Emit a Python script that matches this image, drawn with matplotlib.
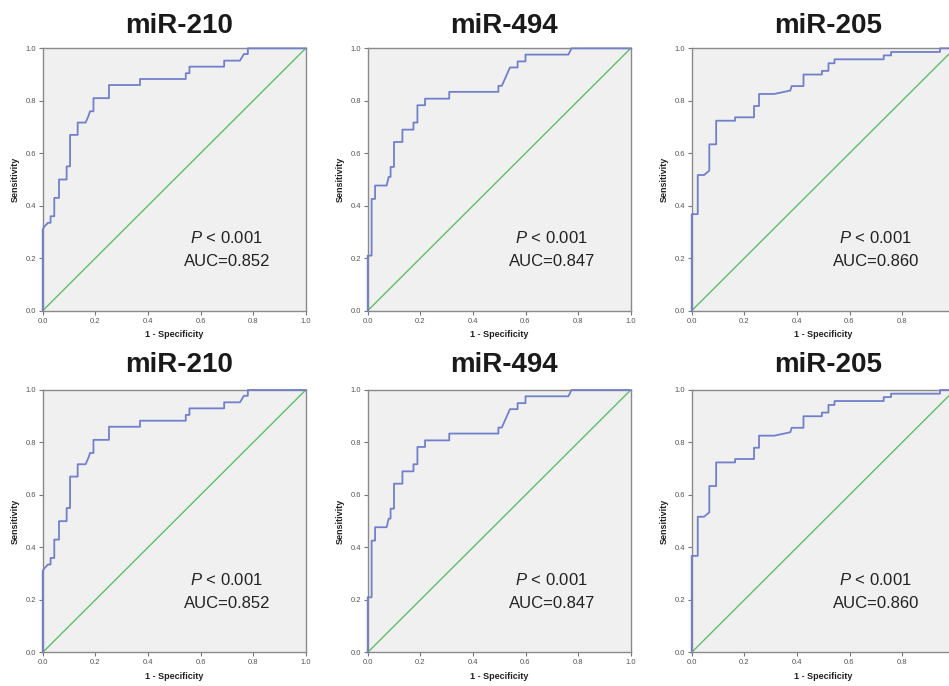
import matplotlib
matplotlib.use("Agg")
import matplotlib.pyplot as plt

plt.rcParams['font.family'] = ['Liberation Sans', 'DejaVu Sans']
plt.rcParams['mathtext.fontset'] = 'custom'
plt.rcParams['mathtext.rm'] = 'Liberation Sans'
plt.rcParams['mathtext.it'] = 'Liberation Sans:italic'

# ---- data (ROC curve vertices: 1 - specificity, sensitivity) ----
titles = ["miR-210", "miR-494", "miR-205"]
auc_values = ["0.852", "0.847", "0.860"]
p_label = "0.001"

fpr_210 = [0, 0, 0.006, 0.02, 0.03, 0.03, 0.044, 0.044, 0.062, 0.062, 0.091, 0.091, 0.104, 0.104,
           0.133, 0.133, 0.163, 0.174, 0.18, 0.193, 0.193, 0.252, 0.252, 0.37, 0.37, 0.544, 0.544,
           0.558, 0.558, 0.69, 0.69, 0.75, 0.765, 0.78, 0.78, 1.0]
tpr_210 = [0, 0.31, 0.32, 0.335, 0.335, 0.36, 0.36, 0.43, 0.43, 0.50, 0.50, 0.55, 0.55, 0.67,
           0.67, 0.717, 0.717, 0.742, 0.76, 0.76, 0.81, 0.81, 0.86, 0.86, 0.883, 0.883, 0.905,
           0.905, 0.93, 0.93, 0.953, 0.953, 0.978, 0.978, 1.0, 1.0]

fpr_494 = [0, 0, 0.015, 0.015, 0.028, 0.028, 0.072, 0.08, 0.087, 0.087, 0.1, 0.1, 0.132, 0.132,
           0.174, 0.174, 0.189, 0.189, 0.218, 0.218, 0.31, 0.31, 0.497, 0.497, 0.51, 0.541, 0.57,
           0.57, 0.60, 0.60, 0.763, 0.775, 1.0]
tpr_494 = [0, 0.21, 0.21, 0.426, 0.426, 0.477, 0.477, 0.51, 0.51, 0.548, 0.548, 0.643, 0.643, 0.69,
           0.69, 0.717, 0.717, 0.783, 0.783, 0.808, 0.808, 0.834, 0.834, 0.857, 0.857, 0.927, 0.927,
           0.95, 0.95, 0.976, 0.976, 1.0, 1.0]

fpr_205 = [0, 0, 0.023, 0.023, 0.047, 0.067, 0.067, 0.093, 0.093, 0.165, 0.165, 0.237, 0.237, 0.256,
           0.256, 0.314, 0.375, 0.38, 0.425, 0.425, 0.495, 0.495, 0.52, 0.52, 0.543, 0.543, 0.73,
           0.73, 0.758, 0.758, 0.944, 0.944, 1.0]
tpr_205 = [0, 0.368, 0.368, 0.517, 0.517, 0.534, 0.634, 0.634, 0.724, 0.724, 0.737, 0.737, 0.78, 0.78,
           0.826, 0.826, 0.839, 0.856, 0.856, 0.9, 0.9, 0.914, 0.914, 0.943, 0.943, 0.958, 0.958,
           0.973, 0.973, 0.986, 0.986, 1.0, 1.0]

curves = [(fpr_210, tpr_210), (fpr_494, tpr_494), (fpr_205, tpr_205)]
ticks = [0.0, 0.2, 0.4, 0.6, 0.8, 1.0]

W, H = 949, 686
fig = plt.figure(figsize=(W / 100, H / 100), dpi=100)

col_left = [42.7, 367.7, 691.7]
row_top = [48.3, 390.0]
ax_w, ax_h = 263.0, 262.4
title_off = [1.058, 1.07]

for r in range(2):
    for c in range(3):
        left = col_left[c] / W
        bottom = 1 - (row_top[r] + ax_h) / H
        ax = fig.add_axes([left, bottom, ax_w / W, ax_h / H])
        ax.set_facecolor('#f0f0f0')
        fpr, tpr = curves[c]
        ax.plot([0, 1], [0, 1], color='#5dbf6a', lw=1.0, zorder=2)
        ax.plot(fpr, tpr, color='#7180cb', lw=1.3, zorder=3, clip_on=False)
        ax.set_xlim(0, 1)
        ax.set_ylim(0, 1)
        ax.set_xticks(ticks)
        ax.set_yticks(ticks)
        ax.set_xticklabels([f"{t:.1f}" for t in ticks])
        ax.set_yticklabels([f"{t:.1f}" for t in ticks])
        ax.tick_params(length=3, width=0.8, color='#777777', labelsize=5.5,
                       labelcolor='#555555', pad=2)
        for s in ax.spines.values():
            s.set_color('#8a8a8a')
            s.set_linewidth(1.0)
        ax.set_ylabel('Sensitivity', fontsize=6.5, fontweight='bold', color='#222222', labelpad=4)
        ax.set_xlabel('1 - Specificity', fontsize=6.5, fontweight='bold', color='#222222', labelpad=4)
        ax.text(0.518, title_off[r], titles[c], transform=ax.transAxes, ha='center',
                va='baseline', fontsize=20, fontweight='bold', color='#1a1a1a')
        ax.text(0.70, 0.276, r'$\mathit{P}$ < ' + p_label, ha='center', va='center',
                fontsize=12, color='#222222')
        ax.text(0.70, 0.187, 'AUC=' + auc_values[c], ha='center', va='center',
                fontsize=12, color='#222222')

fig.savefig('out.png', dpi=100)
